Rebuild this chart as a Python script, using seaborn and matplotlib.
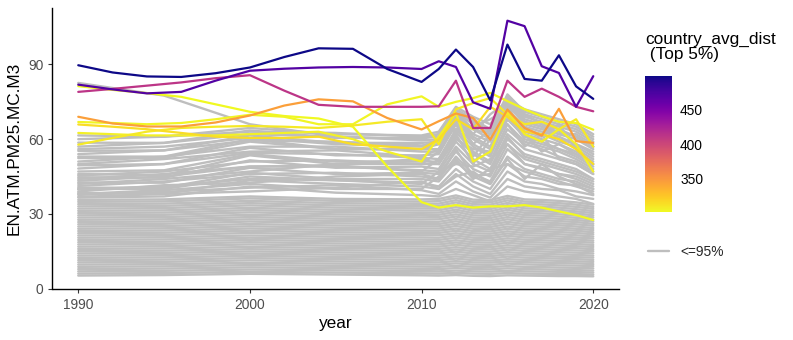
import matplotlib
matplotlib.use("Agg")
import matplotlib.pyplot as plt
import numpy as np
import pandas as pd
import seaborn as sns
from matplotlib.lines import Line2D
from matplotlib.colors import Normalize
from matplotlib.cm import ScalarMappable

# ---------------- data ----------------
grey_years = [1990, 1995, 2000, 2005, 2010, 2011, 2012, 2013, 2014, 2015, 2016, 2017, 2018, 2019, 2020]

grey_low = [
    [5.2, 5.4, 5.9, 5.6, 5.3, 5.2, 5.4, 5.1, 5.0, 5.3, 5.2, 5.1, 5.0, 5.0, 4.9],
    [6.0, 6.2, 6.7, 6.4, 6.1, 6.0, 6.3, 6.0, 5.9, 6.2, 6.0, 5.9, 5.8, 5.8, 5.6],
    [6.9, 7.1, 7.6, 7.3, 7.0, 6.9, 7.2, 6.9, 6.8, 7.1, 6.9, 6.8, 6.7, 6.6, 6.4],
    [7.8, 8.0, 8.5, 8.2, 7.9, 7.8, 8.2, 7.8, 7.7, 8.1, 7.8, 7.7, 7.5, 7.4, 7.2],
    [8.7, 8.9, 9.4, 9.1, 8.8, 8.7, 9.1, 8.7, 8.6, 9.0, 8.7, 8.6, 8.4, 8.3, 8.1],
    [9.6, 9.8, 10.3, 10.0, 9.7, 9.6, 10.1, 9.6, 9.5, 10.0, 9.7, 9.5, 9.3, 9.2, 9.0],
    [10.5, 10.7, 11.3, 10.9, 10.6, 10.5, 11.0, 10.5, 10.4, 10.9, 10.6, 10.4, 10.2, 10.1, 9.8],
    [11.4, 11.6, 12.2, 11.8, 11.5, 11.4, 12.0, 11.4, 11.2, 11.8, 11.5, 11.3, 11.1, 10.9, 10.7],
    [12.3, 12.5, 13.1, 12.7, 12.4, 12.3, 12.9, 12.3, 12.1, 12.8, 12.4, 12.2, 12.0, 11.8, 11.5],
    [13.2, 13.4, 14.0, 13.6, 13.3, 13.2, 13.8, 13.2, 13.0, 13.7, 13.3, 13.1, 12.8, 12.6, 12.4],
    [14.1, 14.3, 14.9, 14.5, 14.2, 14.1, 14.8, 14.1, 13.9, 14.6, 14.2, 14.0, 13.7, 13.5, 13.2],
    [15.0, 15.2, 15.8, 15.4, 15.1, 15.0, 15.7, 15.0, 14.8, 15.6, 15.1, 14.9, 14.6, 14.4, 14.1],
    [15.9, 16.1, 16.7, 16.3, 16.0, 15.9, 16.6, 15.9, 15.7, 16.5, 16.0, 15.8, 15.5, 15.3, 15.0],
    [16.8, 17.0, 17.7, 17.2, 16.9, 16.8, 17.6, 16.8, 16.6, 17.4, 16.9, 16.7, 16.4, 16.2, 15.8],
    [17.7, 17.9, 18.6, 18.1, 17.8, 17.7, 18.5, 17.7, 17.5, 18.4, 17.8, 17.6, 17.3, 17.0, 16.7],
    [18.6, 18.8, 19.5, 19.0, 18.7, 18.6, 19.4, 18.6, 18.4, 19.3, 18.7, 18.5, 18.2, 17.9, 17.5],
    [19.5, 19.7, 20.4, 19.9, 19.6, 19.5, 20.4, 19.5, 19.3, 20.2, 19.6, 19.4, 19.1, 18.8, 18.4],
    [20.4, 20.6, 21.3, 20.8, 20.5, 20.4, 21.3, 20.4, 20.2, 21.2, 20.5, 20.3, 20.0, 19.7, 19.2],
    [21.3, 21.5, 22.3, 21.7, 21.4, 21.4, 22.2, 21.3, 21.1, 22.1, 21.4, 21.2, 20.9, 20.5, 20.1],
    [22.2, 22.4, 23.2, 22.6, 22.3, 22.3, 23.2, 22.2, 22.0, 23.0, 22.3, 22.1, 21.8, 21.4, 20.9],
    [23.1, 23.3, 24.1, 23.5, 23.2, 23.2, 24.1, 23.1, 22.9, 24.0, 23.2, 23.0, 22.7, 22.3, 21.8],
    [24.0, 24.2, 25.0, 24.4, 24.1, 24.1, 25.1, 24.0, 23.8, 24.9, 24.1, 23.9, 23.6, 23.2, 22.6],
    [24.9, 25.1, 25.9, 25.3, 25.0, 25.0, 26.0, 24.9, 24.7, 25.9, 25.0, 24.8, 24.5, 24.0, 23.5],
    [25.8, 26.0, 26.9, 26.2, 25.9, 25.9, 27.0, 25.8, 25.6, 26.8, 25.9, 25.7, 25.4, 24.9, 24.3],
    [26.7, 26.9, 27.8, 27.1, 26.8, 26.8, 27.9, 26.7, 26.5, 27.8, 26.8, 26.6, 26.2, 25.8, 25.2],
    [27.6, 27.8, 28.7, 28.0, 27.7, 27.8, 28.9, 27.6, 27.4, 28.7, 27.7, 27.5, 27.1, 26.7, 26.0],
    [28.5, 28.7, 29.6, 28.9, 28.6, 28.7, 29.8, 28.5, 28.3, 29.7, 28.6, 28.4, 28.0, 27.5, 26.9],
    [29.4, 29.6, 30.6, 29.8, 29.5, 29.6, 30.8, 29.4, 29.2, 30.6, 29.5, 29.3, 28.9, 28.4, 27.7],
    [30.3, 30.5, 31.5, 30.7, 30.4, 30.5, 31.7, 30.3, 30.1, 31.6, 30.4, 30.2, 29.8, 29.3, 28.6],
    [31.2, 31.4, 32.4, 31.6, 31.3, 31.4, 32.7, 31.2, 31.0, 32.5, 31.3, 31.1, 30.7, 30.2, 29.4],
    [32.1, 32.3, 33.4, 32.5, 32.2, 32.3, 33.6, 32.1, 31.9, 33.5, 32.2, 32.0, 31.6, 31.0, 30.3],
    [33.0, 33.2, 34.3, 33.4, 33.1, 33.2, 34.6, 33.0, 32.8, 34.4, 33.1, 32.9, 32.5, 31.9, 31.1],
    [33.9, 34.1, 35.2, 34.3, 34.0, 34.1, 35.5, 33.9, 33.7, 35.4, 34.0, 33.8, 33.4, 32.8, 32.0],
    [34.8, 35.0, 36.2, 35.2, 34.9, 35.1, 36.5, 34.8, 34.6, 36.3, 34.9, 34.7, 34.3, 33.7, 32.8],
    [35.6, 35.8, 37.0, 36.0, 35.8, 36.0, 37.4, 35.7, 35.5, 37.2, 35.8, 35.6, 35.2, 34.6, 33.7],
]

grey_mid = [
    [36.5, 37.0, 41.0, 38.5, 37.5, 37.0, 40.0, 37.5, 35.0, 41.0, 39.0, 38.0, 37.0, 36.0, 34.0],
    [37.6, 38.8, 40.5, 41.5, 39.5, 38.0, 43.0, 39.0, 36.5, 44.0, 41.0, 40.0, 39.5, 37.0, 36.0],
    [38.4, 38.0, 43.5, 42.0, 41.0, 40.0, 46.0, 41.0, 38.0, 47.0, 43.0, 42.0, 40.0, 39.0, 37.5],
    [39.8, 41.0, 44.0, 43.5, 42.5, 41.0, 48.0, 43.0, 40.0, 50.0, 45.0, 44.0, 42.0, 41.5, 38.0],
    [40.5, 40.5, 46.5, 44.0, 44.0, 43.0, 51.0, 45.0, 42.0, 53.0, 48.0, 46.0, 44.0, 43.0, 40.0],
    [41.2, 43.0, 46.0, 46.5, 45.0, 44.0, 53.0, 46.0, 43.0, 56.0, 50.0, 48.5, 46.0, 44.0, 41.0],
    [42.6, 42.5, 48.5, 46.0, 46.5, 46.0, 55.0, 48.0, 45.0, 58.0, 52.0, 50.0, 48.0, 46.0, 43.0],
    [43.3, 45.0, 49.0, 49.0, 47.5, 47.0, 57.0, 50.0, 47.0, 60.0, 54.0, 52.0, 50.0, 48.0, 44.0],
    [44.7, 44.5, 51.5, 48.5, 49.0, 48.0, 59.0, 52.0, 48.0, 62.0, 56.0, 54.0, 52.0, 50.0, 46.0],
    [45.4, 47.0, 51.0, 51.5, 50.0, 50.0, 61.0, 54.0, 50.0, 64.0, 58.0, 56.0, 53.0, 51.0, 47.0],
    [47.0, 47.5, 54.0, 51.0, 51.0, 51.0, 63.0, 55.0, 51.0, 66.0, 59.0, 57.0, 55.0, 52.0, 48.0],
    [48.2, 50.0, 54.5, 54.0, 52.5, 52.0, 64.0, 57.0, 53.0, 68.0, 61.0, 59.0, 56.0, 54.0, 50.0],
    [49.5, 50.0, 56.5, 53.5, 53.5, 54.0, 66.0, 58.0, 54.0, 70.0, 62.0, 60.0, 58.0, 55.0, 51.0],
    [51.0, 53.0, 57.0, 57.0, 55.0, 55.0, 67.0, 60.0, 56.0, 71.0, 64.0, 62.0, 59.0, 57.0, 53.0],
    [52.4, 52.5, 59.0, 56.0, 56.0, 56.0, 68.0, 61.0, 57.0, 72.0, 65.0, 63.0, 61.0, 58.0, 54.0],
    [54.0, 55.5, 59.5, 59.0, 57.5, 58.0, 69.0, 62.0, 59.0, 74.0, 66.0, 64.0, 62.0, 60.0, 56.0],
    [55.3, 55.5, 61.5, 58.5, 58.5, 59.0, 70.0, 64.0, 60.0, 75.0, 68.0, 66.0, 64.0, 61.0, 57.0],
    [57.0, 58.5, 62.0, 61.0, 59.5, 60.0, 71.0, 66.0, 62.0, 76.0, 69.0, 67.0, 65.0, 63.0, 59.0],
    [58.6, 58.5, 63.5, 60.5, 60.5, 61.0, 72.0, 67.0, 63.0, 77.0, 70.0, 68.0, 66.0, 64.0, 60.0],
    [60.0, 61.0, 63.0, 62.5, 61.0, 62.0, 72.0, 68.0, 64.0, 78.0, 71.0, 69.0, 67.0, 65.0, 61.0],
    [61.5, 61.0, 64.5, 62.0, 61.5, 63.0, 73.0, 69.0, 66.0, 76.0, 72.0, 70.0, 68.0, 66.0, 62.0],
    [82.6, 77.5, 66.0, 61.0, 60.0, 62.0, 71.0, 64.0, 62.0, 74.0, 67.0, 65.0, 63.0, 61.0, 57.0],
    [38.0, 39.5, 42.0, 40.0, 40.0, 45.0, 52.0, 44.0, 48.0, 50.0, 47.0, 45.0, 43.0, 41.0, 39.0],
    [40.0, 40.0, 45.0, 43.5, 42.0, 47.0, 50.0, 49.0, 52.0, 58.0, 50.0, 48.0, 46.0, 45.0, 42.0],
    [44.0, 46.0, 49.0, 49.5, 47.0, 52.0, 62.0, 50.0, 60.0, 66.0, 57.0, 62.0, 52.0, 50.0, 46.0],
    [46.0, 45.5, 53.5, 50.0, 50.0, 55.0, 66.0, 53.0, 62.0, 70.0, 60.0, 58.0, 56.0, 53.0, 49.0],
    [50.0, 52.0, 55.0, 55.5, 53.0, 56.0, 69.0, 58.0, 64.0, 73.0, 63.0, 61.0, 66.0, 56.0, 52.0],
    [53.0, 53.0, 60.0, 56.0, 56.0, 58.0, 70.0, 62.0, 70.0, 75.0, 67.0, 65.0, 60.0, 58.0, 55.0],
    [36.8, 38.0, 39.0, 40.5, 43.0, 40.0, 45.0, 47.0, 42.0, 52.0, 44.0, 50.0, 45.0, 42.0, 40.0],
    [39.0, 41.5, 42.5, 45.0, 46.0, 44.0, 56.0, 45.0, 46.0, 61.0, 53.0, 51.0, 49.0, 47.0, 44.0],
    [42.0, 44.0, 47.0, 50.0, 52.0, 50.0, 60.0, 56.0, 55.0, 68.0, 62.0, 55.0, 58.0, 54.0, 50.0],
    [56.0, 57.0, 60.5, 58.0, 57.0, 60.0, 64.0, 65.0, 68.0, 72.0, 70.0, 66.0, 62.0, 62.0, 58.0],
]

top_years = [1990, 1992, 1994, 1996, 1998, 2000, 2002, 2004, 2006, 2008, 2010,
             2011, 2012, 2013, 2014, 2015, 2016, 2017, 2018, 2019, 2020]
top_avg_dist = [302, 304, 306, 309, 315, 345, 412, 470, 498]
top_ya = [81.3, 79.8, 78.5, 77.0, 74.0, 71.0, 69.3, 68.3, 65.0, 49.0, 34.7, 32.5, 33.5, 32.5, 33.0, 33.0, 33.5, 32.5, 31.0, 29.5, 27.5]
top_yb = [66.9, 66.5, 66.0, 66.5, 68.0, 69.8, 69.0, 66.0, 66.0, 74.0, 77.2, 73.0, 75.0, 76.5, 78.6, 75.3, 72.0, 69.2, 67.0, 66.5, 63.8]
top_yc = [62.5, 62.0, 61.5, 61.5, 61.5, 62.0, 62.5, 63.0, 60.0, 55.0, 51.0, 61.0, 70.5, 51.0, 55.0, 71.0, 62.0, 59.0, 64.0, 58.0, 47.0]
top_yd = [57.8, 60.5, 63.0, 64.5, 65.0, 65.3, 65.0, 64.5, 65.5, 67.0, 68.0, 58.0, 72.0, 74.5, 76.5, 70.0, 66.0, 67.0, 64.0, 68.0, 57.0]
top_ye = [65.9, 65.0, 64.0, 62.5, 61.0, 60.5, 60.5, 61.0, 58.0, 57.0, 56.0, 60.0, 68.0, 64.0, 73.0, 69.0, 63.0, 62.0, 60.0, 56.0, 50.0]
top_orange = [69.0, 66.3, 65.1, 65.1, 66.7, 69.5, 73.5, 76.0, 75.2, 68.5, 63.9, 67.2, 70.3, 68.5, 59.8, 71.9, 64.5, 61.4, 72.2, 59.2, 58.5]
top_magenta = [79.0, 80.2, 81.5, 82.8, 84.5, 85.7, 79.5, 73.8, 73.0, 73.0, 73.0, 73.2, 83.5, 64.5, 64.5, 83.5, 77.0, 80.3, 77.0, 73.0, 71.2]
top_purple = [81.9, 80.0, 78.4, 79.0, 83.5, 87.5, 88.3, 88.8, 89.0, 88.8, 88.2, 91.3, 89.0, 74.8, 72.2, 107.6, 105.4, 89.3, 86.6, 73.0, 85.3]
top_navy = [89.7, 86.8, 85.2, 85.0, 86.5, 88.8, 93.0, 96.5, 96.3, 88.2, 83.0, 88.2, 96.0, 89.0, 75.6, 98.0, 84.2, 83.5, 93.7, 81.2, 76.2]
top_series = [top_ya, top_yb, top_yc, top_yd, top_ye, top_orange, top_magenta, top_purple, top_navy]

x_ticks = [1990, 2000, 2010, 2020]
y_ticks = [0, 30, 60, 90]

# ---------------- frames ----------------
rows = []
for i, s in enumerate(grey_low + grey_mid):
    for yr, v in zip(grey_years, s):
        rows.append((f"g{i}", yr, v))
df_grey = pd.DataFrame(rows, columns=["country", "year", "value"])

rows = []
for i, (s, d) in enumerate(zip(top_series, top_avg_dist)):
    for yr, v in zip(top_years, s):
        rows.append((f"t{i}", yr, v, d))
df_top = pd.DataFrame(rows, columns=["country", "year", "value", "avg_dist"])

# ---------------- style ----------------
sns.set_style("ticks")
plt.rcParams["font.family"] = ["Liberation Sans", "DejaVu Sans"]

W, H = 793, 340
fig = plt.figure(figsize=(W / 100, H / 100), dpi=100)
ax = fig.add_axes([52.5 / W, 1 - 289 / H, (619 - 52.5) / W, (289 - 8) / H])

sns.lineplot(data=df_grey, x="year", y="value", units="country", estimator=None,
             color="#BEBEBE", lw=1.7, ax=ax, legend=False)
norm = Normalize(302, 498)
sns.lineplot(data=df_top, x="year", y="value", units="country", estimator=None,
             hue="avg_dist", palette="plasma_r", hue_norm=norm, lw=1.6, ax=ax, legend=False)

ax.set_xlim(1988.5, 2021.5)
ax.set_ylim(-0.2, 112.7)
ax.set_xticks(x_ticks)
ax.set_yticks(y_ticks)
for side in ["top", "right"]:
    ax.spines[side].set_visible(False)
for side in ["left", "bottom"]:
    ax.spines[side].set_color("black")
    ax.spines[side].set_linewidth(1.0)
ax.tick_params(axis="both", length=3.1, width=0.8, color="#333333",
               labelcolor="#4D4D4D", labelsize=9.9, pad=3.3)
ax.set_xlabel("year", fontsize=12.4, color="black", labelpad=3)
ax.set_ylabel("EN.ATM.PM25.MC.M3", fontsize=12.4, color="black", labelpad=5)

# colorbar
cax = fig.add_axes([645 / W, 1 - 212 / H, 26.7 / W, 136 / H])
sm = ScalarMappable(norm=norm, cmap="plasma_r")
cbar = fig.colorbar(sm, cax=cax)
cbar.outline.set_visible(False)
cbar.set_ticks([350, 400, 450])
cax.tick_params(axis="y", direction="in", length=4, width=0.8, color="white",
                left=True, right=True, labelcolor="black", labelsize=9.9, pad=6)
fig.text(645 / W, 1 - 32 / H, "country_avg_dist\n (Top 5%)", ha="left", va="top",
         fontsize=12.4, color="black", linespacing=0.95)

# grey legend
fig.legend(handles=[Line2D([], [], color="#BEBEBE", lw=1.7)], labels=["<=95%"],
           loc="center left", bbox_to_anchor=(648 / W, 1 - 251.7 / H), frameon=False,
           borderpad=0, borderaxespad=0, handlelength=1.5, handletextpad=0.85,
           fontsize=9.9)

fig.savefig("out.png", dpi=100)
